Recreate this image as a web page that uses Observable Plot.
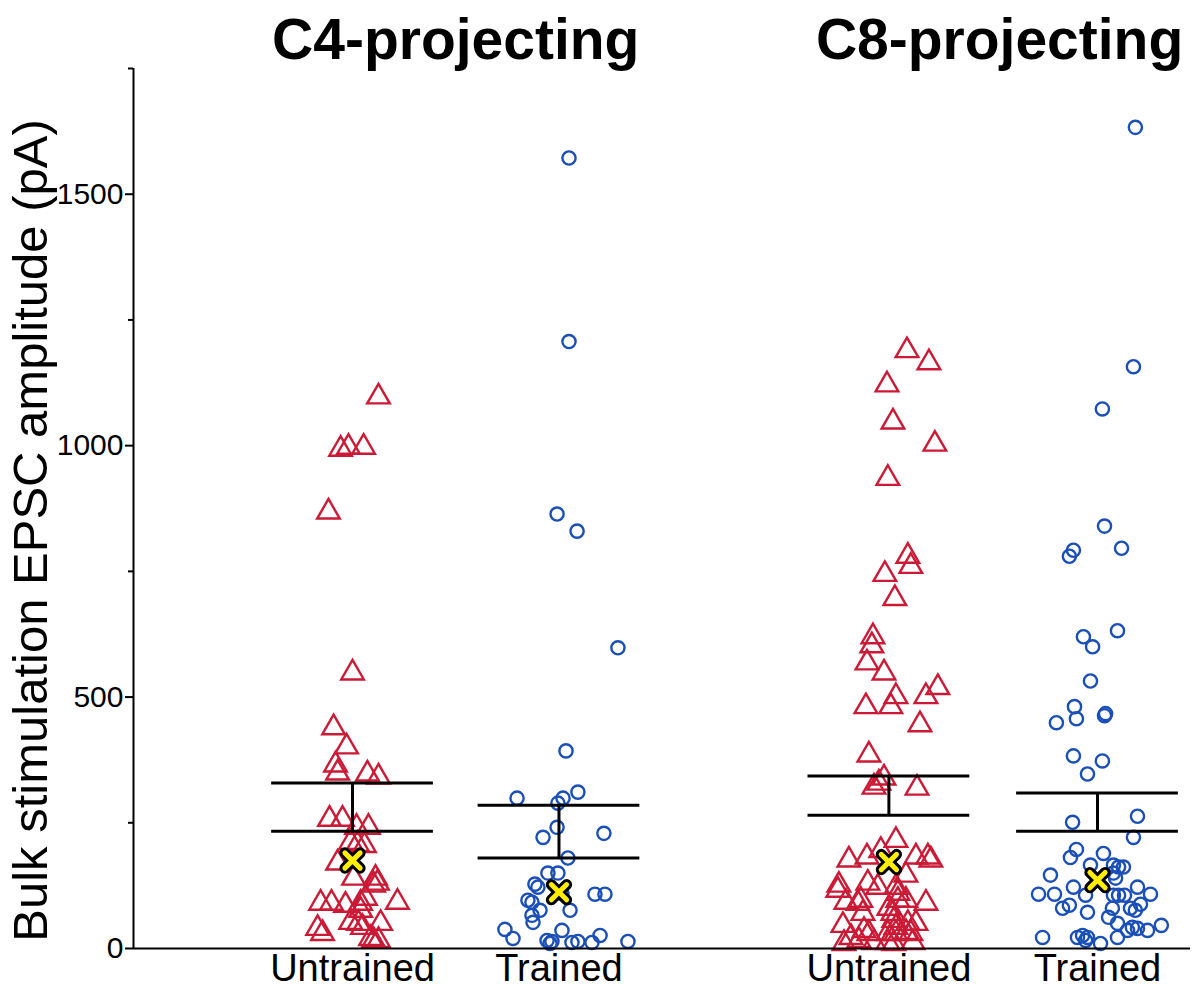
<!DOCTYPE html>
<html><head><meta charset="utf-8">
<script src="https://cdn.jsdelivr.net/npm/d3@7"></script>
<script src="https://cdn.jsdelivr.net/npm/@observablehq/plot@0.6"></script>
<style>body{margin:0;background:#fff;font-family:"Liberation Sans",Arial,sans-serif}</style>
</head><body><div id="chart"></div>
<script>
// ---- data ----
const groupLabels = ["Untrained", "Trained", "Untrained", "Trained"];
const groupPos = [1, 1.97, 3.52, 4.5];
const panelTitles = ["C4-projecting", "C8-projecting"];
const yTicks = [0, 500, 1000, 1500];
const yMinorTicks = [250, 750, 1250, 1750];
const yLabel = "Bulk stimulation EPSC amplitude (pA)";

// C4-projecting, Untrained (triangles)
const c4UntrainedAmp = [1097,993,997,997,868,548,439,401,365,349,347,341,257,257,241,241,211,207,205,170,140,140,130,126,90,90,86,90,100,92,76,52,50,42,50,40,30,20,16,16];
const c4UntrainedJitter = [0.122,-0.056,-0.019,0.052,-0.113,0,-0.089,-0.028,-0.08,-0.07,0.07,0.122,-0.108,-0.047,0.019,0.075,-0.009,0.023,0.056,-0.07,0.005,0.108,0.117,0.099,-0.15,-0.099,-0.033,0.038,0.061,0.211,0.038,-0.009,0.028,0.047,0.132,-0.164,-0.141,0.085,0.099,0.122];
// C4-projecting, Trained (circles)
const c4TrainedAmp = [1572,1207,864,830,598,393,299,311,299,289,241,221,229,180,150,150,128,122,96,92,76,66,52,76,108,108,110,38,20,36,16,14,10,12,14,12,26,14];
const c4TrainedJitter = [0.047,0.047,-0.009,0.085,0.277,0.033,-0.197,0.089,0.019,-0.005,-0.009,-0.075,0.211,0.042,-0.052,-0.005,-0.113,-0.099,-0.146,-0.127,-0.089,-0.127,-0.122,0.052,0.169,0.216,0.014,-0.254,-0.216,0.014,-0.056,-0.033,-0.042,0.061,0.089,0.155,0.193,0.324];
// C8-projecting, Untrained (triangles)
const c8UntrainedAmp = [1189,1165,1121,1047,1003,935,780,760,744,696,620,602,568,548,519,501,501,481,481,445,385,329,321,339,319,215,176,182,195,182,182,176,146,130,122,126,116,122,110,96,96,96,92,90,80,90,70,70,56,46,50,50,36,30,30,30,32,30,22,16,12,12,10,12,10,42];
const c8UntrainedJitter = [0.085,0.188,-0.009,0.019,0.216,-0.005,0.089,0.103,-0.019,0.028,-0.075,-0.08,-0.103,-0.023,0.23,0.174,0.033,0.009,-0.108,0.146,-0.094,-0.047,-0.07,-0.023,0.132,0.033,-0.188,-0.103,-0.038,0.127,0.183,0.197,0.08,-0.099,-0.052,-0.235,-0.24,0.033,0.042,0.042,0.08,-0.132,-0.202,-0.146,0,0.174,-0.122,0.019,0.023,-0.216,0.089,0.127,-0.117,-0.094,-0.005,0.033,0.08,0.103,-0.178,-0.141,-0.07,-0.005,0.023,0.113,-0.211,0.033];
// C8-projecting, Trained (circles)
const c8TrainedAmp = [1633,1157,1073,840,796,792,780,632,620,600,532,481,457,449,467,463,383,373,347,263,251,221,197,181,189,166,162,162,150,140,146,166,122,108,108,106,106,106,106,122,108,80,86,72,80,80,76,88,62,50,36,42,40,36,46,22,22,26,16,10,22,22];
const c8TrainedJitter = [0.178,0.169,0.023,0.033,0.113,-0.113,-0.132,0.094,-0.066,-0.023,-0.033,-0.108,-0.099,-0.193,0.038,0.033,-0.113,0.023,-0.047,0.188,-0.117,0.169,-0.099,-0.127,0.028,0.075,0.099,0.122,0.075,0.085,-0.221,-0.033,-0.113,-0.277,-0.202,-0.056,0.075,0.099,0.127,0.188,0.249,-0.164,-0.132,-0.047,0.07,0.155,0.178,0.202,0.052,0.094,0.141,0.164,0.188,0.235,0.3,-0.258,-0.094,-0.07,-0.056,0.014,0.094,-0.047];

// summary per group
const meanValues = [233, 180, 265, 233];
const semUpper = [329, 285, 343, 309];
const medianValues = [175, 112, 172, 136];

// ---- build tables ----
const red = "#cc1a36", blue = "#1b4fb8";
function rows(amp, jit, g) { return amp.map((v, i) => ({x: groupPos[g] + jit[i], y: v})); }
const triRows = [...rows(c4UntrainedAmp, c4UntrainedJitter, 0), ...rows(c8UntrainedAmp, c8UntrainedJitter, 2)];
const circRows = [...rows(c4TrainedAmp, c4TrainedJitter, 1), ...rows(c8TrainedAmp, c8TrainedJitter, 3)];
const stats = groupPos.map((p, i) => ({pos: p, mean: meanValues[i], sem: semUpper[i], median: medianValues[i], label: groupLabels[i]}));
const titleRows = [
  {x: (groupPos[0] + groupPos[1]) / 2, t: panelTitles[0]},
  {x: (groupPos[2] + groupPos[3]) / 2 + 0.03, t: panelTitles[1]}
];
const half = 0.38;
const xDomain = [-0.029, 4.937];

const chart = Plot.plot({
  width: 1196, height: 990,
  marginTop: 68, marginBottom: 42, marginLeft: 133, marginRight: 6,
  style: {fontFamily: '"Liberation Sans", Arial, sans-serif', background: "white", color: "black"},
  x: {domain: xDomain, axis: null},
  y: {domain: [0, 1750], axis: null},
  marks: [
    Plot.dot(triRows, {x: "x", y: "y", symbol: "triangle", r: 8.4, stroke: red, strokeWidth: 2.4, fill: "none"}),
    Plot.dot(circRows, {x: "x", y: "y", symbol: "circle", r: 6.6, stroke: blue, strokeWidth: 2.4, fill: "none"}),
    Plot.ruleY(stats, {x1: d => d.pos - half, x2: d => d.pos + half, y: "mean", stroke: "black", strokeWidth: 3}),
    Plot.ruleY(stats, {x1: d => d.pos - half, x2: d => d.pos + half, y: "sem", stroke: "black", strokeWidth: 3}),
    Plot.ruleX(stats, {x: "pos", y1: "mean", y2: "sem", stroke: "black", strokeWidth: 3}),
    Plot.dot(stats, {x: "pos", y: "median", symbol: "times", r: 7, stroke: "black", strokeWidth: 11, strokeLinecap: "round"}),
    Plot.dot(stats, {x: "pos", y: "median", symbol: "times", r: 7, stroke: "#ffee00", strokeWidth: 5, strokeLinecap: "round"}),
    // axes
    Plot.ruleX([xDomain[0]], {y1: 0, y2: 1750, stroke: "black", strokeWidth: 2}),
    Plot.ruleY([0], {stroke: "black", strokeWidth: 2}),
    Plot.axisY({ticks: yTicks, tickSize: 8, tickPadding: 2, fontSize: 30, tickFormat: d => String(d), label: null, strokeWidth: 2}),
    Plot.axisY({ticks: yMinorTicks, tickSize: 5, tickFormat: () => "", label: null, strokeWidth: 2}),
    Plot.text(stats, {x: "pos", text: "label", frameAnchor: "bottom", lineAnchor: "top", dy: 6, fontSize: 38}),
    Plot.text(titleRows, {x: "x", text: "t", frameAnchor: "top", lineAnchor: "bottom", dy: -10, fontSize: 57, fontWeight: "bold"}),
    Plot.text([yLabel], {frameAnchor: "left", textAnchor: "middle", rotate: -90, dx: -102, dy: 22, fontSize: 49})
  ]
});
document.getElementById("chart").appendChild(chart);
</script>
</body></html>
